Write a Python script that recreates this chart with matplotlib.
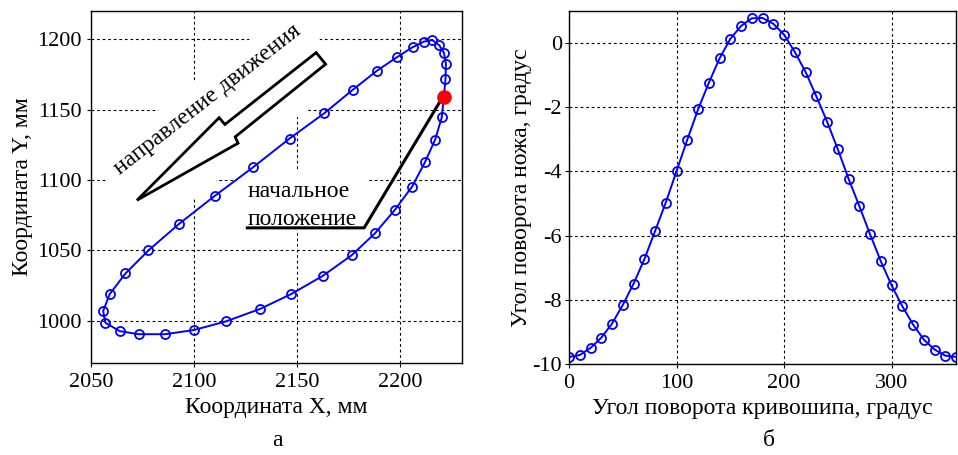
import matplotlib
matplotlib.use("Agg")
import matplotlib.pyplot as plt
from matplotlib.patches import Polygon

plt.rcParams['font.family'] = ['Liberation Serif', 'DejaVu Serif']

# ── Data (step 10 deg of crank angle) ─────────────────────────────────────────

crank_deg = list(range(0, 361, 10))

# knife tip trajectory, mm (first point = starting position)
traj_x = [2221.3, 2222.1, 2222.3, 2221.4, 2219.1, 2215.7, 2211.6, 2206.1,
          2198.7, 2188.8, 2177.0, 2163.3, 2146.4, 2128.6, 2110.1, 2092.9,
          2077.9, 2066.7, 2059.1, 2055.9, 2057.0, 2063.9, 2073.1, 2086.0,
          2100.1, 2115.5, 2132.2, 2147.2, 2162.5, 2176.5, 2187.8, 2197.6,
          2205.9, 2212.1, 2217.1, 2220.3, 2221.3]
traj_y = [1158.7, 1171.6, 1182.2, 1190.1, 1195.6, 1199.3, 1198.2, 1194.2,
          1187.3, 1177.5, 1163.9, 1147.4, 1129.4, 1108.9, 1088.7, 1069.0,
          1050.0, 1033.6, 1019.0, 1007.0, 998.6, 992.7, 990.5, 990.5,
          993.5, 999.6, 1008.5, 1019.0, 1031.9, 1046.5, 1062.0, 1078.9,
          1095.3, 1112.5, 1128.7, 1144.4, 1158.7]

# knife rotation angle, deg
knife_deg = [-9.78, -9.72, -9.50, -9.18, -8.74, -8.16, -7.50, -6.74, -5.86,
             -4.97, -3.99, -3.01, -2.07, -1.24, -0.48, 0.13, 0.53, 0.77,
             0.78, 0.60, 0.26, -0.28, -0.90, -1.66, -2.45, -3.31, -4.23,
             -5.08, -5.96, -6.80, -7.55, -8.20, -8.77, -9.24, -9.55, -9.74,
             -9.78]

# ── Style ─────────────────────────────────────────────────────────────────────

BLUE = "#0000ff"
FS_TICK = 16
FS_LABEL = 17
line_kw = dict(color=BLUE, linewidth=1.4, marker="o", markersize=6.5,
               markerfacecolor="none", markeredgewidth=1.3, zorder=4)
grid_kw = dict(color="black", linestyle=(0, (2.5, 2.5)), linewidth=0.8)


def style_axes(ax):
    ax.grid(True, **grid_kw)
    ax.set_axisbelow(True)
    ax.tick_params(direction="out", length=3, labelsize=FS_TICK, pad=4)
    for s in ax.spines.values():
        s.set_linewidth(1.0)
        s.set_zorder(6)


fig = plt.figure(figsize=(9.58, 4.55), dpi=100)

# ── (a) trajectory ────────────────────────────────────────────────────────────
ax1 = fig.add_axes([0.095, 0.202, 0.387, 0.774])
style_axes(ax1)
ax1.plot(traj_x, traj_y, **line_kw)
ax1.plot(traj_x[0], traj_y[0], "o", color="red", markersize=8.5,
         markeredgewidth=2, zorder=5)
ax1.set_xlim(2050, 2230)
ax1.set_ylim(970, 1220)
ax1.set_xticks([2050, 2100, 2150, 2200])
ax1.set_yticks([1000, 1050, 1100, 1150, 1200])
ax1.set_xlabel("Координата X, мм", fontsize=FS_LABEL, labelpad=4)
ax1.set_ylabel("Координата Y, мм", fontsize=FS_LABEL, labelpad=3)

# white backing behind the annotations (hides the grid there)
ax1.add_patch(Polygon([(2148.1, 1223.9), (2175.3, 1173.1), (2077.5, 1061.6),
                       (2050.3, 1112.4)], closed=True, facecolor="white",
                      edgecolor="none", zorder=2))
ax1.add_patch(Polygon([(2120.8, 1107.0), (2184.1, 1107.0), (2184.1, 1064.8),
                       (2120.8, 1064.8)], closed=True, facecolor="white",
                      edgecolor="none", zorder=2))

# motion direction arrow
arrow_pts = [(2159.3, 1190.4), (2163.9, 1182.2), (2120.0, 1130.6),
             (2121.4, 1126.1), (2072.3, 1085.6), (2112.2, 1144.2),
             (2115.0, 1139.4)]
ax1.add_patch(Polygon(arrow_pts, closed=True, facecolor="white",
                      edgecolor="black", linewidth=2, zorder=3))
ax1.text(2106.5, 1157, "направление движения", rotation=38,
         fontsize=FS_LABEL, ha="center", va="center",
         rotation_mode="anchor", zorder=3)

# starting position label
ax1.text(2126.0, 1088.2, "начальное", fontsize=FS_LABEL, va="baseline",
         zorder=3)
ax1.text(2126.0, 1068.3, "положение", fontsize=FS_LABEL, va="baseline",
         zorder=3)
ax1.plot([2125.9, 2182.6, 2219.7], [1066.0, 1066.0, 1156.3],
         color="black", linewidth=2.2, zorder=3)

# ── (б) knife angle ───────────────────────────────────────────────────────────
ax2 = fig.add_axes([0.594, 0.200, 0.404, 0.776])
style_axes(ax2)
ax2.tick_params(axis="y", pad=2)
ax2.plot(crank_deg, knife_deg, **line_kw)
ax2.set_xlim(0, 360)
ax2.set_ylim(-10, 1)
ax2.set_xticks([0, 100, 200, 300])
ax2.set_yticks([0, -2, -4, -6, -8, -10])
ax2.set_yticklabels(["0", "-2", "-4", "-6", "-8", "-10"])
ax2.set_xlabel("Угол поворота кривошипа, градус", fontsize=FS_LABEL,
               labelpad=4)
ax2.set_ylabel("Угол поворота ножа, градус", fontsize=FS_LABEL, labelpad=0)

fig.text(277 / 958, 1 - 440 / 455, "а", fontsize=FS_LABEL, ha="center",
         va="center")
fig.text(769 / 958, 1 - 440 / 455, "б", fontsize=FS_LABEL, ha="center",
         va="center")

fig.savefig("out.png", dpi=100)
